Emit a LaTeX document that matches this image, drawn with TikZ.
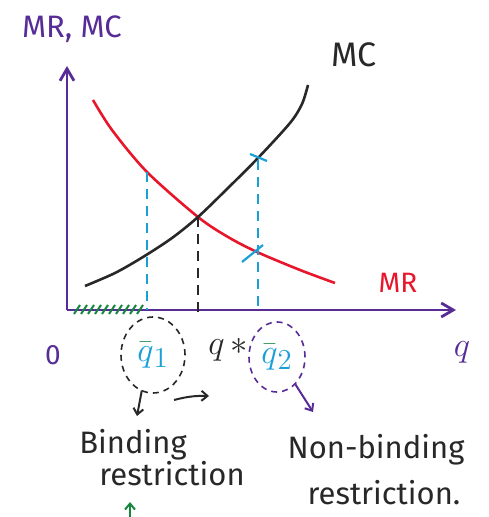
\documentclass[tikz,border=0pt]{standalone}
\usepackage{fontspec}
\setmainfont{Fira Sans}
\usepackage{xcolor}
\usetikzlibrary{arrows.meta, positioning, calc, shapes.geometric}
\definecolor{axispurple}{RGB}{88,44,150}
\definecolor{mrred}{RGB}{232,22,42}
\definecolor{dashblue}{RGB}{25,160,215}
\definecolor{hatchgreen}{RGB}{20,135,60}
\definecolor{inkblack}{RGB}{40,40,40}
\tikzset{
  axis/.style={-{Straight Barb[length=6pt, width=7pt]}, line width=1.4pt, axispurple},
  curve/.style={line width=1.3pt, smooth},
  guide/.style={line width=1pt, dashed, dash pattern=on 5pt off 3.5pt},
  cross/.style={line width=1.1pt, dashblue},
  hatch/.style={line width=1pt, hatchgreen},
  blob/.style={draw, ellipse, line width=0.8pt, dash pattern=on 3pt off 2.5pt, inner sep=0pt},
  pointer/.style={-{Straight Barb[length=3pt, width=5pt]}, line width=1pt},
  hand/.style={font=\fontsize{15.5}{17}\selectfont, inkblack, align=left},
  biglabel/.style={font=\fontsize{19}{21}\selectfont},
  every node/.style={font=\fontsize{14}{16}\selectfont}
}

\begin{document}
\begin{tikzpicture}[x=0.5pt,y=-0.5pt]
    \useasboundingbox (0,0) rectangle (488,517);
    % axes
    \coordinate (origin) at (67,310);
    \coordinate (ytip) at (67,66);
    \coordinate (xtip) at (456,310);
    \draw[axis] (origin) -- (ytip);
    \draw[axis] (origin) -- (xtip);
    \node[axispurple, anchor=west, font=\fontsize{15.5}{17}\selectfont] (axislabel) at (15,29) {MR, MC};
    \node[axispurple] (zerolabel) at (53,355) {0};
    \node[axispurple, biglabel] (qlabel) at (462,352) {$q$};
    % marginal revenue and marginal cost
    \draw[curve, mrred] plot coordinates {(93,100) (112,130) (147,172) (198,217) (228,237) (257,252) (300,270) (335,283)};
    \draw[curve, inkblack] plot coordinates {(85,286) (115,273) (143,257) (172,238) (198,217) (228,188) (258,158) (290,123) (302,104) (308,85)};
    \node[inkblack, font=\fontsize{17}{19}\selectfont] (mclabel) at (354,55) {MC};
    \node[mrred] (mrlabel) at (398,283) {MR};
    % equilibrium and the two restrictions
    \coordinate (eq) at (198,217);
    \coordinate (eqfoot) at (198,312);
    \coordinate (mrhit) at (147,172);
    \coordinate (mrfoot) at (147,310);
    \coordinate (mchit) at (258,160);
    \coordinate (mcfoot) at (258,310);
    \draw[guide, inkblack] (eq) -- (eqfoot);
    \draw[guide, dashblue] (mrhit) -- (mrfoot);
    \draw[guide, dashblue] (mchit) -- (mcfoot);
    \draw[cross] (250,154) -- (267,161);
    \draw[cross] (242,262) -- (263,245);
    \foreach \hx in {74,81,...,140}
      \draw[hatch] (\hx,314) -- (\hx+6,305);
    % labels under the axis
    \node[blob, inkblack, biglabel, minimum width=32pt, minimum height=38pt] (qbarone) at (153,355) {$\textcolor{hatchgreen}{\bar{\textcolor{dashblue}{q}}}_{\textcolor{dashblue}{1}}$};
    \node[inkblack, biglabel] (qstar) at (228,350) {$q\,{*}$};
    \node[blob, axispurple, biglabel, minimum width=28pt, minimum height=35pt] (qbartwo) at (277,357) {$\textcolor{hatchgreen}{\bar{\textcolor{dashblue}{q}}}_{\textcolor{dashblue}{2}}$};
    \coordinate (downend) at (137,416);
    \coordinate (rightstart) at (174,400);
    \coordinate (rightend) at (209,396);
    \coordinate (twoend) at (313,412);
    \draw[pointer, inkblack] (qbarone.south west) ++(12,8) -- (downend);
    \draw[pointer, inkblack] (rightstart) to[bend left=8] (rightend);
    \draw[pointer, axispurple] (qbartwo.south east) ++(-2,2) -- (twoend);
    \node[hand] (binding) at (162,458) {Binding\\[-1pt]\hspace*{10pt}restriction};
    \node[hand] (nonbinding) at (376,470) {Non-binding\\[6pt]\hspace*{10pt}restriction.};
    \coordinate (greenfoot) at (130,519);
    \coordinate (greentip) at (130,502);
    \draw[pointer, hatchgreen] (greenfoot) -- (greentip);
\end{tikzpicture}
\end{document}
